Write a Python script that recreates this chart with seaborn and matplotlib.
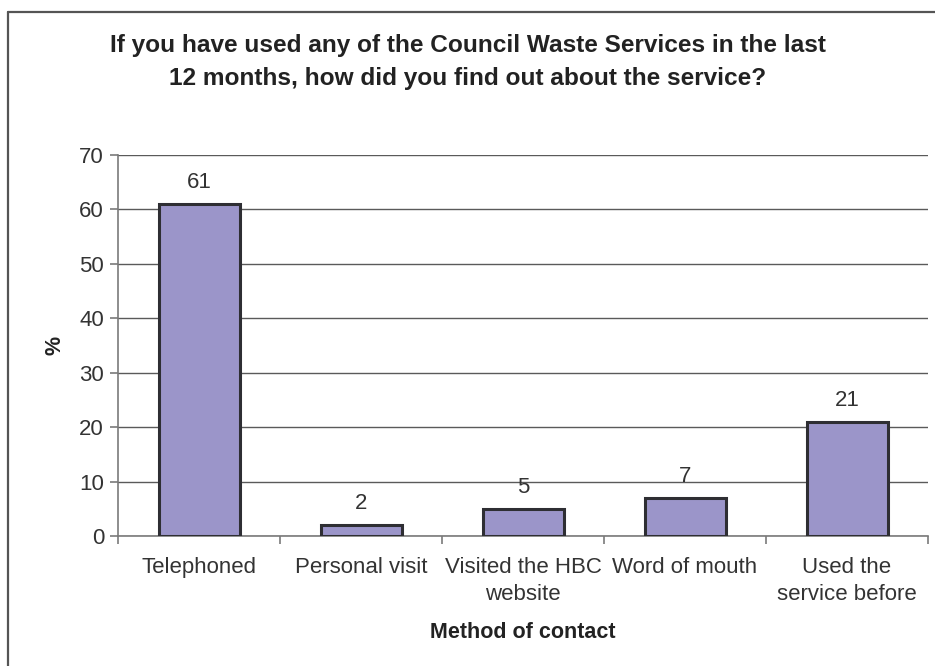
import matplotlib
matplotlib.use("Agg")
import matplotlib.pyplot as plt
from matplotlib.lines import Line2D
import seaborn as sns
import pandas as pd
import numpy as np

# Survey results: how respondents found out about the service
categories = ["Telephoned", "Personal visit", "Visited the HBC\nwebsite",
              "Word of mouth", "Used the\nservice before"]
percent = [61, 2, 5, 7, 21]
y_ticks = [0, 10, 20, 30, 40, 50, 60, 70]

title = ("If you have used any of the Council Waste Services in the last\n"
         "12 months, how did you find out about the service?")
x_label = "Method of contact"
y_label = "%"

sns.set_theme(style="white")
plt.rcParams["font.family"] = ["Liberation Sans", "DejaVu Sans"]

W, H = 935, 666
fig = plt.figure(figsize=(W / 100, H / 100), dpi=100)
fig.patch.set_facecolor("white")

# plot area in pixel units
left, right, top, bottom = 118, 928, 155, 536
ax = fig.add_axes([left / W, 1 - bottom / H, (right - left) / W, (bottom - top) / H])

df = pd.DataFrame({"method": categories, "pct": percent})
sns.barplot(data=df, x="method", y="pct", ax=ax, color="#9B95C9",
            saturation=1, edgecolor="#2E2E33", linewidth=2.2, width=0.5,
            zorder=3)

ax.set_xlim(-0.5, len(categories) - 0.5)
ax.set_ylim(0, 70)
ax.set_yticks(y_ticks)
ax.yaxis.grid(True, color="#5A5A5A", linewidth=1.0, zorder=0)
ax.set_axisbelow(True)

for side in ["top", "right"]:
    ax.spines[side].set_visible(False)
for side in ["left", "bottom"]:
    ax.spines[side].set_color("#7A7A7A")
    ax.spines[side].set_linewidth(1.2)

# ticks on category boundaries
ax.set_xticks(np.arange(-0.5, len(categories), 1.0), minor=True)
ax.tick_params(axis="x", which="minor", length=6, width=1.2, color="#7A7A7A",
               direction="out", bottom=True)
ax.tick_params(axis="x", which="major", length=0, pad=15,
               labelsize=16, labelcolor="#333333")
ax.tick_params(axis="y", which="major", length=6, width=1.2, color="#7A7A7A",
               direction="out", left=True, pad=4,
               labelsize=16, labelcolor="#333333")
for lbl in ax.get_xticklabels():
    lbl.set_multialignment("center")
    lbl.set_linespacing(1.4)

ax.set_xlabel(x_label, fontsize=15.5, fontweight="bold", color="#222222",
              labelpad=12)
ax.set_ylabel(y_label, fontsize=15.5, fontweight="bold", color="#222222",
              labelpad=10)

ax.bar_label(ax.containers[0], labels=[str(v) for v in percent],
             padding=8, fontsize=16, color="#333333")

fig.text(0.5, 1 - 62 / H, title, ha="center", va="center",
         multialignment="center", fontsize=17.6, fontweight="bold",
         color="#222222", linespacing=1.55)

# outer chart frame (top and left edges)
frame_color = "#555555"
fig.add_artist(Line2D([8 / W, 1.0], [1 - 12 / H, 1 - 12 / H],
                      transform=fig.transFigure, color=frame_color, linewidth=1.6))
fig.add_artist(Line2D([8 / W, 8 / W], [1 - 12 / H, 0.0],
                      transform=fig.transFigure, color=frame_color, linewidth=1.6))

fig.savefig("out.png", dpi=100, facecolor="white")
